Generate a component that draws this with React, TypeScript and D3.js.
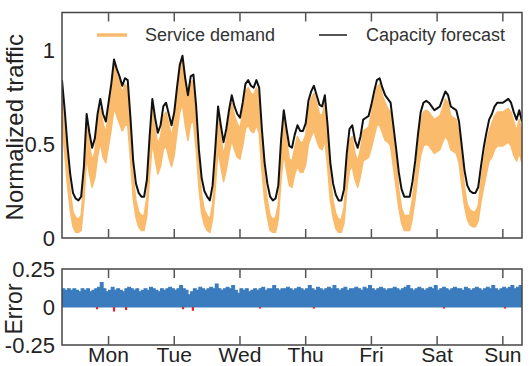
import React from 'react';
import * as d3 from 'd3';

// hourly samples over one week (hour 0 .. 168)
const capacity = [
  0.84, 0.68, 0.49, 0.34, 0.24, 0.21, 0.20, 0.22, 0.38, 0.66,
  0.56, 0.48, 0.53, 0.66, 0.74, 0.66, 0.62, 0.72, 0.82, 0.95,
  0.90, 0.86, 0.81, 0.85, 0.84, 0.64, 0.41, 0.29, 0.24, 0.22,
  0.22, 0.31, 0.54, 0.74, 0.64, 0.56, 0.60, 0.70, 0.72, 0.66,
  0.60, 0.67, 0.80, 0.92, 0.97, 0.85, 0.76, 0.86, 0.87, 0.70,
  0.47, 0.32, 0.25, 0.22, 0.20, 0.28, 0.48, 0.70, 0.60, 0.51,
  0.58, 0.68, 0.76, 0.70, 0.66, 0.64, 0.72, 0.82, 0.84, 0.81,
  0.80, 0.84, 0.80, 0.58, 0.40, 0.29, 0.22, 0.20, 0.21, 0.28,
  0.52, 0.68, 0.58, 0.49, 0.48, 0.55, 0.60, 0.57, 0.57, 0.61,
  0.73, 0.78, 0.81, 0.76, 0.71, 0.70, 0.76, 0.60, 0.40, 0.29,
  0.23, 0.20, 0.20, 0.26, 0.45, 0.58, 0.60, 0.52, 0.48, 0.54,
  0.63, 0.64, 0.65, 0.71, 0.78, 0.84, 0.85, 0.80, 0.76, 0.74,
  0.72, 0.60, 0.48, 0.35, 0.26, 0.22, 0.22, 0.22, 0.30, 0.41,
  0.55, 0.67, 0.72, 0.73, 0.72, 0.70, 0.68, 0.69, 0.70, 0.74,
  0.78, 0.76, 0.70, 0.69, 0.68, 0.62, 0.49, 0.36, 0.28, 0.25,
  0.24, 0.24, 0.27, 0.38, 0.48, 0.56, 0.63, 0.66, 0.70, 0.72,
  0.72, 0.72, 0.73, 0.74, 0.72, 0.67, 0.63, 0.68, 0.62,
];

const demandLow = [
  0.60, 0.45, 0.28, 0.15, 0.06, 0.03, 0.03, 0.04, 0.19, 0.43,
  0.34, 0.27, 0.32, 0.43, 0.51, 0.43, 0.40, 0.49, 0.58, 0.69,
  0.65, 0.61, 0.57, 0.60, 0.60, 0.42, 0.21, 0.11, 0.06, 0.04,
  0.04, 0.12, 0.33, 0.51, 0.42, 0.34, 0.38, 0.47, 0.49, 0.43,
  0.38, 0.44, 0.56, 0.67, 0.71, 0.60, 0.52, 0.61, 0.62, 0.47,
  0.27, 0.13, 0.07, 0.04, 0.03, 0.10, 0.27, 0.47, 0.38, 0.30,
  0.36, 0.45, 0.52, 0.47, 0.43, 0.42, 0.49, 0.58, 0.60, 0.57,
  0.56, 0.60, 0.56, 0.36, 0.20, 0.11, 0.04, 0.03, 0.03, 0.10,
  0.31, 0.45, 0.36, 0.28, 0.27, 0.34, 0.38, 0.35, 0.35, 0.39,
  0.50, 0.54, 0.57, 0.52, 0.48, 0.47, 0.52, 0.38, 0.20, 0.11,
  0.05, 0.03, 0.03, 0.08, 0.25, 0.36, 0.38, 0.31, 0.27, 0.33,
  0.41, 0.42, 0.43, 0.48, 0.54, 0.60, 0.60, 0.56, 0.52, 0.51,
  0.49, 0.38, 0.27, 0.16, 0.08, 0.04, 0.04, 0.04, 0.11, 0.21,
  0.34, 0.44, 0.49, 0.50, 0.49, 0.47, 0.45, 0.46, 0.47, 0.51,
  0.54, 0.52, 0.47, 0.46, 0.45, 0.40, 0.28, 0.17, 0.10, 0.07,
  0.06, 0.06, 0.09, 0.19, 0.27, 0.34, 0.41, 0.43, 0.47, 0.49,
  0.49, 0.49, 0.50, 0.51, 0.49, 0.44, 0.41, 0.45, 0.40,
];

const demandHigh = [
  0.80, 0.63, 0.42, 0.25, 0.14, 0.11, 0.10, 0.12, 0.30, 0.61,
  0.50, 0.41, 0.46, 0.61, 0.69, 0.61, 0.56, 0.67, 0.78, 0.93,
  0.87, 0.83, 0.77, 0.82, 0.80, 0.58, 0.33, 0.20, 0.14, 0.12,
  0.12, 0.22, 0.47, 0.69, 0.58, 0.50, 0.54, 0.65, 0.67, 0.61,
  0.54, 0.62, 0.76, 0.89, 0.95, 0.82, 0.72, 0.83, 0.84, 0.65,
  0.40, 0.23, 0.15, 0.12, 0.10, 0.18, 0.41, 0.65, 0.54, 0.44,
  0.52, 0.63, 0.72, 0.65, 0.61, 0.58, 0.67, 0.78, 0.80, 0.77,
  0.76, 0.80, 0.76, 0.52, 0.32, 0.20, 0.12, 0.10, 0.11, 0.18,
  0.45, 0.63, 0.52, 0.42, 0.41, 0.48, 0.54, 0.51, 0.51, 0.55,
  0.68, 0.74, 0.77, 0.72, 0.66, 0.65, 0.72, 0.54, 0.32, 0.20,
  0.13, 0.10, 0.10, 0.16, 0.37, 0.52, 0.54, 0.45, 0.41, 0.47,
  0.57, 0.58, 0.59, 0.66, 0.74, 0.80, 0.82, 0.76, 0.72, 0.69,
  0.67, 0.54, 0.41, 0.26, 0.16, 0.12, 0.12, 0.12, 0.21, 0.33,
  0.48, 0.62, 0.67, 0.68, 0.67, 0.65, 0.63, 0.64, 0.65, 0.69,
  0.74, 0.72, 0.65, 0.64, 0.63, 0.56, 0.42, 0.27, 0.18, 0.15,
  0.14, 0.14, 0.17, 0.30, 0.41, 0.50, 0.57, 0.61, 0.65, 0.67,
  0.67, 0.67, 0.68, 0.69, 0.67, 0.62, 0.57, 0.63, 0.56,
];

const errors = [
  0.12, 0.11, 0.12, 0.11, 0.12, 0.11, 0.10, 0.12, 0.11, 0.12,
  0.10, 0.11, 0.12, 0.13, 0.16, 0.12, 0.10, 0.11, 0.13, 0.11,
  0.12, 0.11, 0.10, 0.12, 0.13, 0.12, 0.11, 0.12, 0.10, 0.11,
  0.12, 0.11, 0.13, 0.12, 0.11, 0.10, 0.12, 0.11, 0.12, 0.13,
  0.12, 0.11, 0.12, 0.14, 0.12, 0.11, 0.08, 0.10, 0.12, 0.11,
  0.13, 0.12, 0.11, 0.12, 0.13, 0.12, 0.15, 0.12, 0.11, 0.12,
  0.13, 0.12, 0.14, 0.11, 0.09, 0.12, 0.11, 0.12, 0.10, 0.11,
  0.12, 0.11, 0.12, 0.13, 0.11, 0.12, 0.12, 0.14, 0.12, 0.11,
  0.12, 0.12, 0.13, 0.12, 0.11, 0.12, 0.13, 0.12, 0.11, 0.12,
  0.14, 0.12, 0.11, 0.13, 0.12, 0.11, 0.12, 0.13, 0.12, 0.14,
  0.12, 0.11, 0.12, 0.13, 0.11, 0.12, 0.12, 0.13, 0.12, 0.11,
  0.13, 0.12, 0.14, 0.12, 0.11, 0.12, 0.13, 0.12, 0.11, 0.12,
  0.12, 0.13, 0.12, 0.11, 0.12, 0.13, 0.14, 0.12, 0.11, 0.12,
  0.13, 0.12, 0.11, 0.12, 0.13, 0.12, 0.14, 0.11, 0.12, 0.13,
  0.12, 0.11, 0.12, 0.13, 0.12, 0.12, 0.11, 0.13, 0.12, 0.11,
  0.12, 0.13, 0.12, 0.11, 0.12, 0.13, 0.12, 0.14, 0.12, 0.11,
  0.12, 0.13, 0.12, 0.13, 0.14, 0.12, 0.13, 0.14, 0.13,
];

// under-provisioned moments (hour, error)
const negHours = [12.8, 19.0, 23.4, 44.2, 47.8, 72.3, 92.0, 139.5, 161.8];
const negErrors = [-0.015, -0.03, -0.02, -0.015, -0.025, -0.01, -0.01, -0.01, -0.01];

const dayLabels = ['Mon', 'Tue', 'Wed', 'Thu', 'Fri', 'Sat', 'Sun'];
const dayTickHours = [17, 41, 65, 89, 113, 137, 161];

const trafficTicks = [0, 0.5, 1];
const errorTicks = [-0.25, 0, 0.25];

const W = 532;
const H = 366;
const left = 62;
const right = 522;
const top1 = 12.5;
const bottom1 = 238;
const top2 = 269;
const bottom2 = 345;

const font = 'Liberation Sans, Arial, Helvetica, sans-serif';

export default function App() {
  const x = d3.scaleLinear().domain([0, capacity.length - 1]).range([left, right]);
  const y = d3.scaleLinear().domain([0, 1.2]).range([bottom1, top1]);
  const yErr = d3.scaleLinear().domain([-0.25, 0.25]).range([bottom2, top2]);

  const idx = d3.range(capacity.length);

  const demandArea = d3.area<number>()
    .x(i => x(i))
    .y0(i => y(demandLow[i]))
    .y1(i => y(demandHigh[i]));

  const capLine = d3.line<number>()
    .x(i => x(i))
    .y(i => y(capacity[i]));

  const errArea = d3.area<number>()
    .x(i => x(i))
    .y0(yErr(0))
    .y1(i => yErr(errors[i]))
    .curve(d3.curveStepAfter);

  const tickLen = 9;

  return (
    <svg width={W} height={H} style={{ position: 'absolute', left: 0, top: 0, display: 'block', background: '#fff' }}
      fontFamily={font}>
      <defs>
        <clipPath id="clip-top">
          <rect x={left} y={top1} width={right - left} height={bottom1 - top1} />
        </clipPath>
        <clipPath id="clip-bottom">
          <rect x={left} y={top2} width={right - left} height={bottom2 - top2} />
        </clipPath>
      </defs>

      {/* top panel */}
      <g clipPath="url(#clip-top)">
        <path d={demandArea(idx) || ''} fill="#fabb6c" stroke="#fabb6c" strokeWidth={1.5} strokeLinejoin="round" />
        <path d={capLine(idx) || ''} fill="none" stroke="#111" strokeWidth={2} strokeLinejoin="round" />
      </g>
      <rect x={left} y={top1} width={right - left} height={bottom1 - top1} fill="none" stroke="#444" strokeWidth={1.5} />
      {dayTickHours.map(h => (
        <g key={'t1' + h} stroke="#555" strokeWidth={1.5}>
          <line x1={x(h)} x2={x(h)} y1={top1} y2={top1 + tickLen} />
          <line x1={x(h)} x2={x(h)} y1={bottom1} y2={bottom1 - tickLen} />
        </g>
      ))}
      {trafficTicks.map(t => (
        <text key={'yt' + t} x={55} y={y(t)} dy="0.35em" textAnchor="end" fontSize={22} fill="#222">
          {t}
        </text>
      ))}
      <text transform={`translate(23,${(top1 + bottom1) / 2 + 2}) rotate(-90)`} textAnchor="middle" fontSize={24} fill="#222">
        Normalized traffic
      </text>

      {/* legend */}
      <line x1={97} x2={127} y1={35} y2={35} stroke="#fabb6c" strokeWidth={3.5} />
      <text x={145} y={35} dy="0.35em" fontSize={18} fill="#333">Service demand</text>
      <line x1={319} x2={347} y1={35} y2={35} stroke="#555" strokeWidth={2} />
      <text x={366} y={35} dy="0.35em" fontSize={18} fill="#333">Capacity forecast</text>

      {/* bottom panel */}
      <g clipPath="url(#clip-bottom)">
        <path d={errArea(idx) || ''} fill="#3a7cbd" stroke="#3a7cbd" strokeWidth={1.2} />
        {negHours.map((h, i) => (
          <line key={'neg' + i} x1={x(h)} x2={x(h)} y1={yErr(0)} y2={yErr(negErrors[i])}
            stroke="#e8262a" strokeWidth={2.2} />
        ))}
      </g>
      <rect x={left} y={top2} width={right - left} height={bottom2 - top2} fill="none" stroke="#444" strokeWidth={1.5} />
      {dayTickHours.map(h => (
        <g key={'t2' + h} stroke="#555" strokeWidth={1.5}>
          <line x1={x(h)} x2={x(h)} y1={top2} y2={top2 + tickLen} />
          <line x1={x(h)} x2={x(h)} y1={bottom2} y2={bottom2 - tickLen} />
        </g>
      ))}
      {errorTicks.map(t => (
        <text key={'et' + t} x={55} y={yErr(t)} dy="0.35em" textAnchor="end" fontSize={22} fill="#222">
          {t}
        </text>
      ))}
      <text transform={`translate(22,${(top2 + bottom2) / 2 + 2}) rotate(-90)`} textAnchor="middle" fontSize={23} fill="#222">
        Error
      </text>
      {dayTickHours.map((h, i) => (
        <text key={'d' + h} x={x(h)} y={362} textAnchor="middle" fontSize={21} fill="#222">
          {dayLabels[i]}
        </text>
      ))}
    </svg>
  );
}
